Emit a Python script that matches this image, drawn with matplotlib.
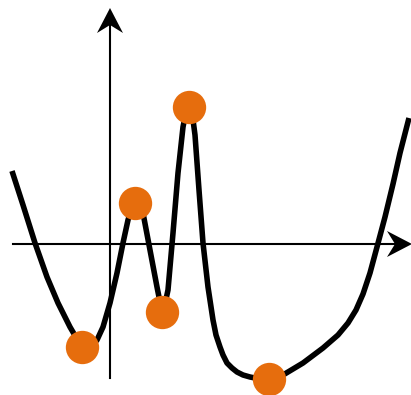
import matplotlib.pyplot as plt
from matplotlib.patches import Polygon

# curve (pixel coords, y grows downward)
curve_x = [12, 23, 35, 47, 58, 70, 77, 82, 87, 92, 97, 103, 110, 117, 123, 128, 132, 135,
           139, 143, 150, 157, 160, 162, 165, 168, 173, 178, 183, 186, 189,
           192, 195, 199, 203, 208, 213, 216, 220, 223, 227, 232, 237, 243, 250, 260, 269,
           283, 303, 323, 338, 348, 356, 363, 370, 377, 385, 393, 400, 409]
curve_y = [171, 205, 243, 277, 303, 327, 339, 346, 348, 346, 340, 327, 303, 273, 243, 220, 207, 203,
           205, 213, 250, 287, 302, 310, 304, 290, 233, 173, 127, 112, 107,
           112, 135, 190, 243, 287, 320, 335, 347, 355, 363, 368, 372, 375, 377, 379, 379,
           375, 363, 348, 335, 323, 310, 294, 273, 247, 217, 184, 153, 118]

# highlighted extrema
dot_x = [82, 135, 162, 189, 269]
dot_y = [347, 203, 312, 107, 379]

fig = plt.figure(figsize=(4.11, 3.95), dpi=100)
ax = fig.add_axes([0, 0, 1, 1])
ax.set_xlim(0, 411)
ax.set_ylim(395, 0)
ax.axis('off')

# axes with arrow heads
ax.plot([13, 400], [244, 244], color='black', lw=1.5, zorder=1)
ax.plot([110, 110], [378, 20], color='black', lw=1.5, zorder=1)
ax.add_patch(Polygon([(110, 8), (97, 33), (110, 25), (123, 33)], closed=True,
                     facecolor='black', edgecolor='none', zorder=1))
ax.add_patch(Polygon([(412, 244), (387, 231), (395, 244), (387, 257)], closed=True,
                     facecolor='black', edgecolor='none', zorder=1))

ax.plot(curve_x, curve_y, color='black', lw=4, solid_joinstyle='round',
        solid_capstyle='butt', zorder=2)
ax.plot(dot_x, dot_y, 'o', color='#e66d0d', markersize=24, markeredgewidth=0, zorder=3)

fig.savefig('out.png', dpi=100)
